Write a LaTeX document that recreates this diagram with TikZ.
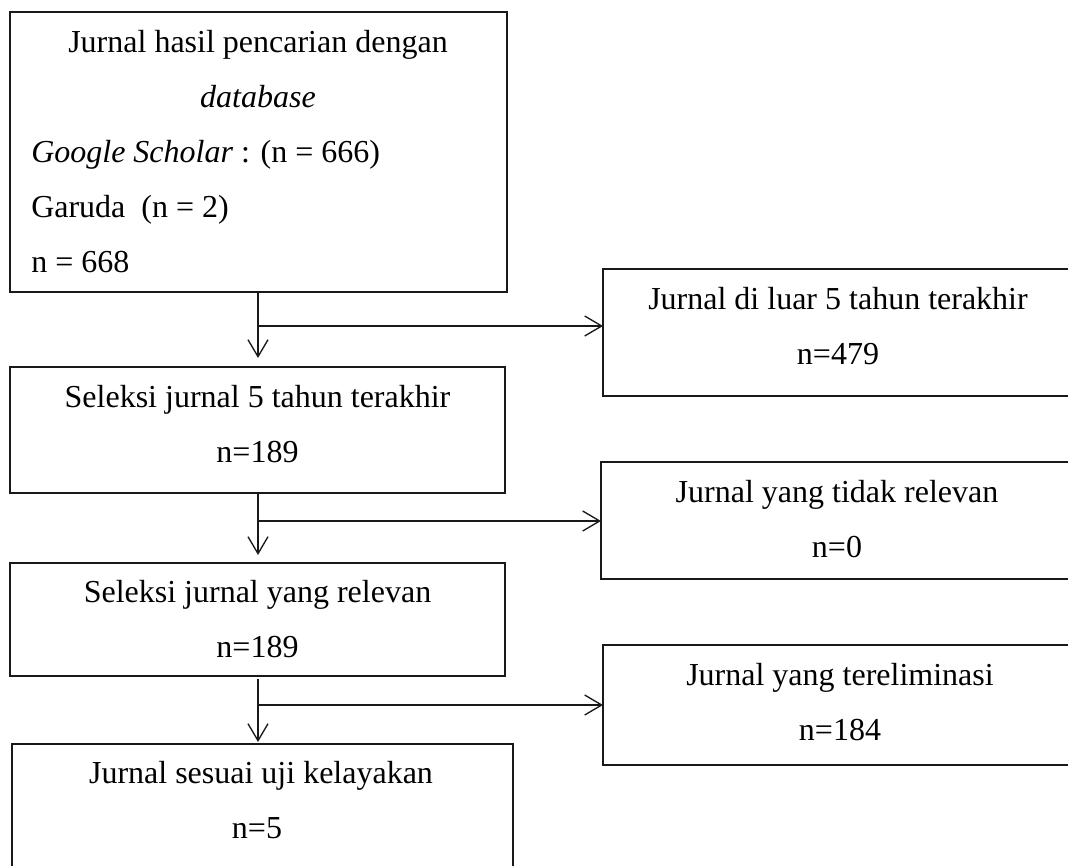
\documentclass[tikz,border=0pt]{standalone}
\usepackage{fontspec}
\setmainfont{Liberation Serif}
\usetikzlibrary{arrows.meta}
\begin{document}
\begin{tikzpicture}[x=0.75pt,y=-0.75pt,
  box/.style={draw=black!90, line width=1pt, rectangle, inner sep=0pt, outer sep=0pt},
  txt/.style={anchor=base, inner sep=0pt, font=\fontsize{24}{28}\selectfont},
  ltxt/.style={txt, anchor=base west},
  flow/.style={draw=black!90, line width=1pt, -{Straight Barb[length=12.75pt,width=15pt,line width=1pt]}}]
\clip (0,0) rectangle (1068,866);
\fill[white] (0,0) rectangle (1068,866);
% main column boxes
\node[box, minimum width=372.75pt, minimum height=210pt] (b1) at (258.5,152) {};
\node[box, minimum width=371.25pt, minimum height=94.5pt] (b2) at (257.5,430) {};
\node[box, minimum width=371.25pt, minimum height=84.75pt] (b3) at (257.5,619.5) {};
\node[box, minimum width=375.75pt, minimum height=117pt] (b4) at (262.5,822) {};
% side boxes
\node[box, minimum width=352.5pt, minimum height=95.25pt] (r1) at (838,332.5) {};
\node[box, minimum width=354pt, minimum height=87.75pt] (r2) at (837,520.5) {};
\node[box, minimum width=352.5pt, minimum height=90pt] (r3) at (838,705) {};
% texts
\node[txt] (t1a) at (258,53) {Jurnal hasil pencarian dengan};
\node[txt] (t1b) at (258,108) {\textit{database}};
\node[ltxt] (t1c) at (31,163) {\textit{Google Scholar} : (n = 666)};
\node[ltxt] (t1d) at (31,218) {Garuda~ (n = 2)};
\node[ltxt] (t1e) at (31,273) {n = 668};
\node[txt] (t2a) at (257.5,407) {Seleksi jurnal 5 tahun terakhir};
\node[txt] (t2b) at (257.5,462) {n=189};
\node[txt] (t3a) at (257.5,602) {Seleksi jurnal yang relevan};
\node[txt] (t3b) at (257.5,657) {n=189};
\node[txt] (t4a) at (261,783) {Jurnal sesuai uji kelayakan};
\node[txt] (t4b) at (257,838) {n=5};
\node[txt] (r1a) at (838,310) {Jurnal di luar 5 tahun terakhir};
\node[txt] (r1b) at (838,365) {n=479};
\node[txt] (r2a) at (837,502) {Jurnal yang tidak relevan};
\node[txt] (r2b) at (837,557) {n=0};
\node[txt] (r3a) at (840,685) {Jurnal yang tereliminasi};
\node[txt] (r3b) at (840,740) {n=184};
% junctions
\coordinate (j1) at (258,326);
\coordinate (j2) at (258,521);
\coordinate (j3) at (258,705);
% connectors
\draw[flow] (258,292) -- ([yshift=6.75pt]j1 |- b2.north);
\draw[flow] (j1) -- (j1 -| r1.west);
\draw[flow] (258,493) -- ([yshift=6pt]j2 |- b3.north);
\draw[flow] (j2) -- (j2 -| r2.west);
\draw[flow] (258,679) -- ([yshift=1.5pt]j3 |- b4.north);
\draw[flow] (j3) -- (j3 -| r3.west);
\end{tikzpicture}
\end{document}
